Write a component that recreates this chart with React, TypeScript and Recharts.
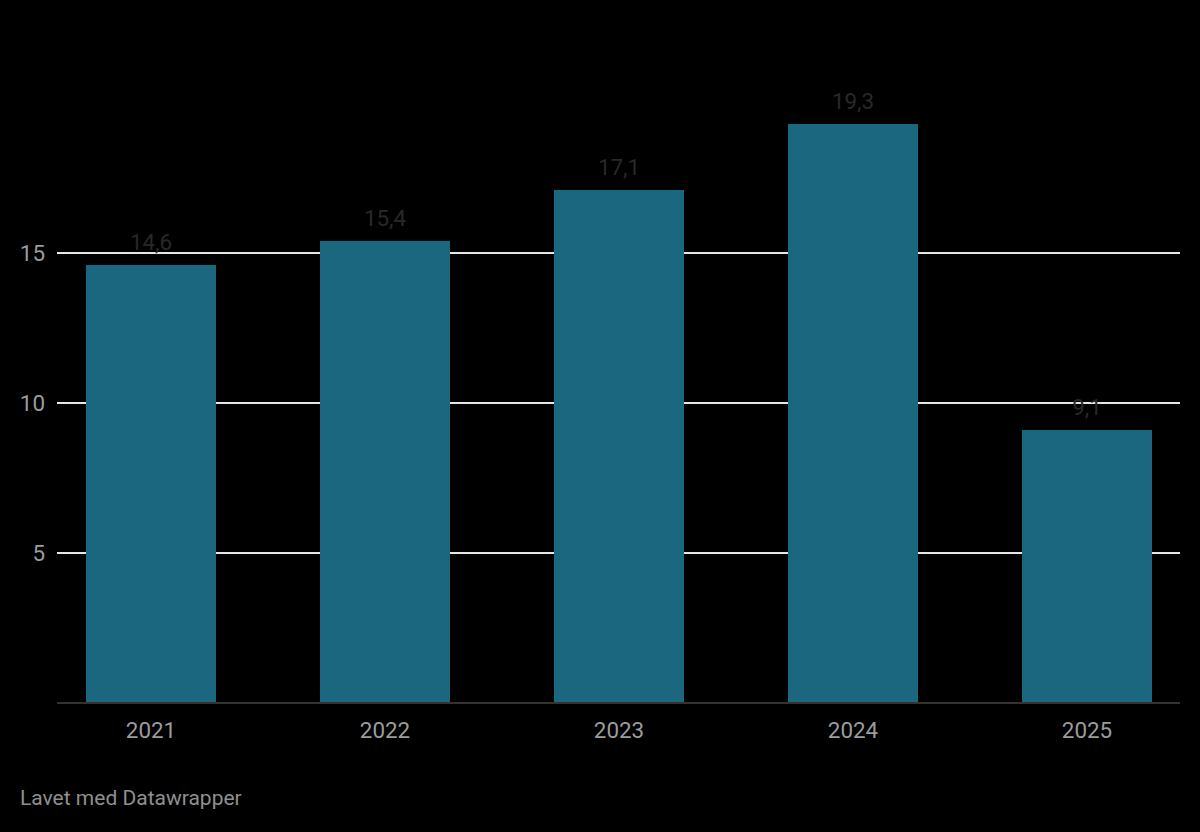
import React from "react";
import { BarChart, Bar, XAxis, YAxis, CartesianGrid, LabelList } from "recharts";

const years = ["2021", "2022", "2023", "2024", "2025"];
const values = [14.6, 15.4, 17.1, 19.3, 9.1];
const yTicks = [5, 10, 15];
const yDomain = [0, 20];

const data = years.map((year, i) => ({ year, value: values[i] }));

const fmt = (v: number) => v.toFixed(1).replace(".", ",");

// only draw grid lines at the y ticks, using the axis scale when available
const gridRows = ({ yAxis, offset }: any) =>
  yTicks.map((t) => {
    const s = yAxis?.scale;
    if (typeof s === "function") return s(t);
    if (s && typeof s.map === "function") return s.map(t);
    const frac = (t - yDomain[0]) / (yDomain[1] - yDomain[0]);
    return offset.top + offset.height * (1 - frac);
  });

export default function App() {
  return (
    <div
      style={{
        position: "absolute",
        left: 0,
        top: 0,
        width: 1200,
        height: 832,
        background: "#000",
        fontFamily: "Roboto, sans-serif",
      }}
    >
      <BarChart
        width={1200}
        height={832}
        data={data}
        margin={{ top: 103, right: 20, bottom: 89, left: 12 }}
      >
        <CartesianGrid
          vertical={false}
          stroke="#e6e6e6"
          strokeWidth={2}
          horizontalCoordinatesGenerator={gridRows}
        />
        <XAxis
          dataKey="year"
          height={40}
          padding={{ left: -23, right: -24 }}
          tick={{ fontSize: 22.4, fill: "#9c9c9c", fontFamily: "Roboto" }}
          tickLine={false}
          tickSize={0}
          tickMargin={19}
          axisLine={{ stroke: "#333", strokeWidth: 2 }}
        />
        <YAxis
          width={45}
          domain={yDomain}
          ticks={yTicks}
          tick={{ fontSize: 22.4, fill: "#9c9c9c", fontFamily: "Roboto" }}
          tickLine={false}
          tickSize={0}
          tickMargin={12}
          axisLine={false}
        />
        <Bar dataKey="value" fill="#1c6780" barSize={130} isAnimationActive={false}>
          <LabelList
            dataKey="value"
            position="top"
            offset={15}
            formatter={(v: any) => fmt(Number(v))}
            style={{ fontSize: 22.4, fill: "#282828", fontFamily: "Roboto" }}
          />
        </Bar>
      </BarChart>
      <div
        style={{
          position: "absolute",
          left: 20,
          top: 786,
          fontSize: 21,
          color: "#8f8f8f",
          fontFamily: "Roboto, sans-serif",
        }}
      >
        Lavet med Datawrapper
      </div>
    </div>
  );
}
